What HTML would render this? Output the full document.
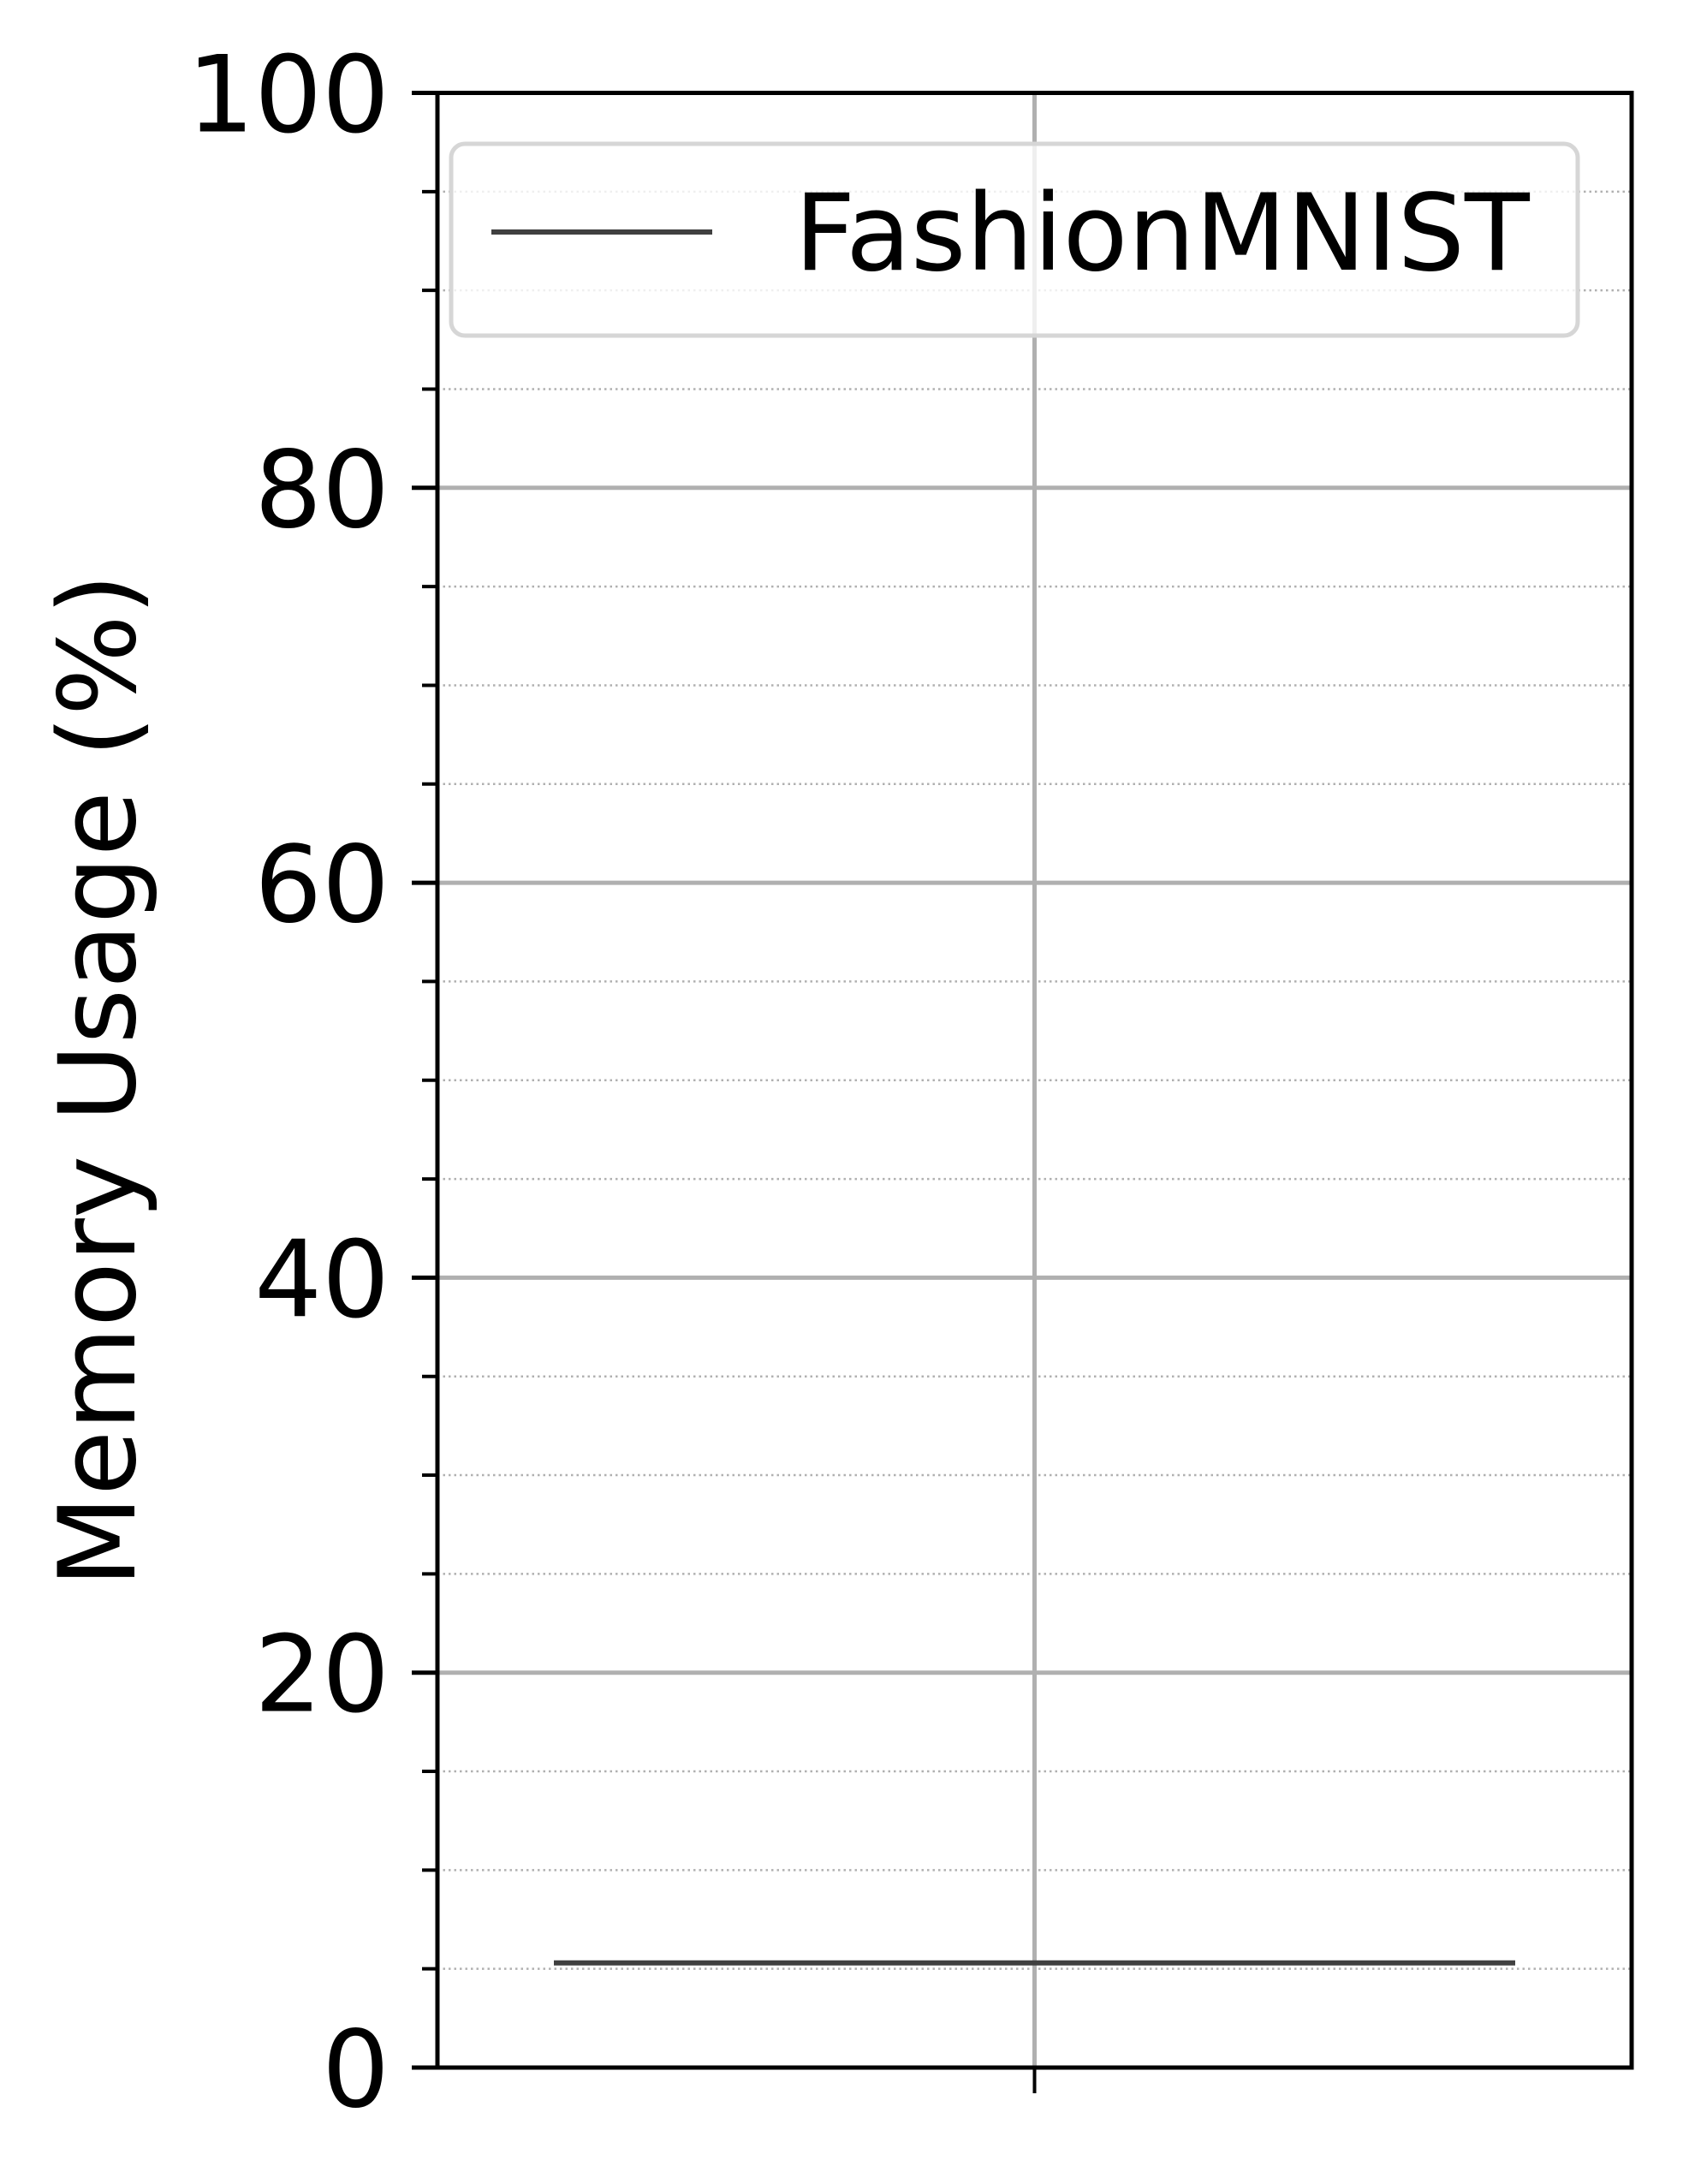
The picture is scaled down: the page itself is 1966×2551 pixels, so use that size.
<!DOCTYPE html>
<html><head><meta charset="utf-8">
<style>
html,body{margin:0;padding:0;background:#fff;}
svg{display:block;font-family:"DejaVu Sans","Liberation Sans",sans-serif;}
</style></head>
<body>
<svg id="chart" width="1966" height="2551" viewBox="0 0 1966 2551" xmlns="http://www.w3.org/2000/svg">
<rect width="1966" height="2551" fill="#fff"/>
<g id="grid"></g>
<g id="marks"></g>
<g id="axes"></g>
<text x="0" y="0" transform="translate(157,1262) rotate(-90)" text-anchor="middle" font-size="124" fill="#000">Memory Usage (%)</text>
<g>
<rect x="527" y="168" width="1316" height="224" rx="16" fill="rgba(255,255,255,0.8)" stroke="#d6d6d6" stroke-width="5"/>
<line x1="574" y1="271" x2="832" y2="271" stroke="#404040" stroke-width="6"/>
<text x="928" y="315" font-size="124" fill="#000">FashionMNIST</text>
</g>
</svg>
<script>
const seriesName = ["FashionMNIST"];
const seriesValues = [5.3];
const yTicks = [0, 20, 40, 60, 80, 100];
const yMinor = [5,10,15,25,30,35,45,50,55,65,70,75,85,90,95];

const L=511, R=1906, T=108.5, B=2415;
const yMin=0, yMax=100;
function y(v){return B-(v-yMin)/(yMax-yMin)*(B-T);}
const NS="http://www.w3.org/2000/svg";
function mk(tag,attrs,parent){const e=document.createElementNS(NS,tag);for(const k in attrs)e.setAttribute(k,attrs[k]);parent.appendChild(e);return e;}
const grid=document.getElementById('grid'), marks=document.getElementById('marks'), axes=document.getElementById('axes');
const xc=(L+R)/2;

yMinor.forEach(v=>{
  const g=mk('line',{x1:L,x2:R,y1:y(v),y2:y(v),stroke:'#b0b0b0','stroke-width':2.5,'stroke-dasharray':'2.5 4'},grid);
  
  
  const t=mk('line',{x1:L-18,x2:L,y1:y(v),y2:y(v),stroke:'#000','stroke-width':4},axes);
  
  
});
yTicks.forEach(v=>{
  const g=mk('line',{x1:L,x2:R,y1:y(v),y2:y(v),stroke:'#b0b0b0','stroke-width':5},grid);
  
  
  const t=mk('line',{x1:L-30,x2:L,y1:y(v),y2:y(v),stroke:'#000','stroke-width':5},axes);
  
  
  const lb=mk('text',{x:L-56,y:y(v)+45,'text-anchor':'end','font-size':124,fill:'#000'},axes);
  lb.textContent=String(v);
  
  
});
const vg=mk('line',{x1:xc,x2:xc,y1:T,y2:B,stroke:'#b0b0b0','stroke-width':5},grid);


const xt=mk('line',{x1:xc,x2:xc,y1:B,y2:B+30,stroke:'#000','stroke-width':4},axes);



seriesValues.forEach((v,i)=>{
  const ln=mk('line',{x1:647,x2:1770,y1:y(v),y2:y(v),stroke:'#404040','stroke-width':6},marks);
  
  
});

const fr=mk('rect',{x:L,y:T,width:R-L,height:B-T,fill:'none',stroke:'#000','stroke-width':5},axes);


</script>
</body></html>
